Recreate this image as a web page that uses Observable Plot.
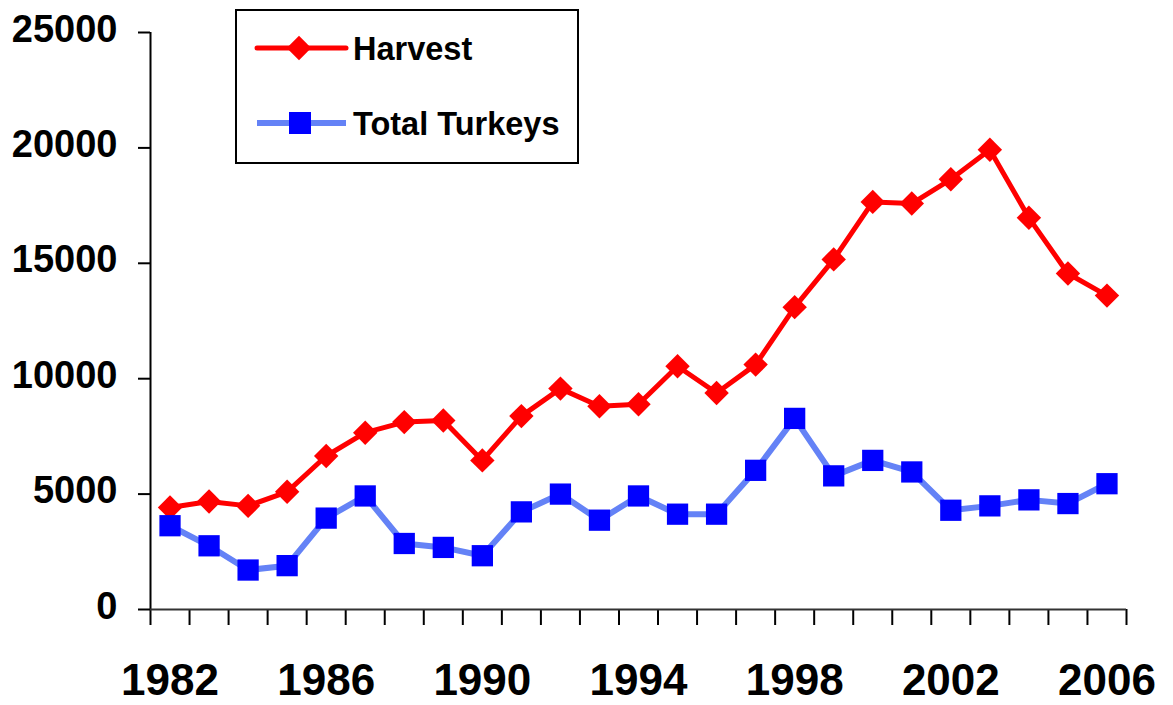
<!DOCTYPE html>
<html>
<head>
<meta charset="utf-8">
<script src="https://cdn.jsdelivr.net/npm/d3@7"></script>
<script src="https://cdn.jsdelivr.net/npm/@observablehq/plot@0.6"></script>
<style>
  html, body { margin: 0; padding: 0; background: #fff; }
  #wrap { position: relative; width: 1173px; height: 705px; font-family: "Liberation Sans", Arial, sans-serif; }
  #legend { position: absolute; left: 0; top: 0; pointer-events: none; }
</style>
</head>
<body>
<div id="wrap"></div>
<script>
const years = [1982,1983,1984,1985,1986,1987,1988,1989,1990,1991,1992,1993,1994,1995,1996,1997,1998,1999,2000,2001,2002,2003,2004,2005,2006];
const harvest = [4420,4680,4490,5100,6650,7660,8120,8190,6460,8380,9570,8810,8890,10540,9380,10610,13100,15170,17660,17590,18640,19920,16970,14560,13600];
const turkeys = [3630,2760,1710,1900,3960,4920,2860,2690,2330,4230,5000,3870,4920,4130,4130,6030,8280,5790,6460,5960,4300,4490,4750,4590,5450];
const yTicks = [0,5000,10000,15000,20000,25000];
const xLabels = [1982,1986,1990,1994,1998,2002,2006];
const seriesNames = ["Harvest", "Total Turkeys"];
const seriesColors = { line: ["#ff0000", "#6482f6"], marker: ["#ff0000", "#0000ff"] };

const data = years.map((y, i) => ({ year: y, harvest: harvest[i], turkeys: turkeys[i] }));
const boundaries = years.map(y => y - 0.5).concat([years[years.length - 1] + 0.5]);

const chart = Plot.plot({
  width: 1173,
  height: 705,
  marginLeft: 150,
  marginRight: 47,
  marginTop: 32,
  marginBottom: 96,
  style: { fontFamily: "'Liberation Sans', Arial, sans-serif", fontWeight: "bold", color: "#000", background: "#fff" },
  x: { domain: [boundaries[0], boundaries[boundaries.length - 1]], label: null },
  y: { domain: [0, 25000], label: null },
  marks: [
    Plot.axisY(yTicks, { tickSize: 12, strokeWidth: 2, tickFormat: () => "", label: null }),
    Plot.axisY(yTicks, { tickSize: 0, tickPadding: 33, fontSize: 38, fontWeight: "bold", dy: -3, tickFormat: d => String(d), label: null }),
    Plot.axisX(boundaries, { tickSize: 16, strokeWidth: 2, tickFormat: () => "", label: null }),
    Plot.axisX(xLabels, { tickSize: 0, tickPadding: 54, fontSize: 44, fontWeight: "bold", tickFormat: d => String(d), label: null }),
    Plot.ruleX([boundaries[0]], { y1: 0, y2: 25000, stroke: "#000", strokeWidth: 2 }),
    Plot.ruleY([0], { stroke: "#333", strokeWidth: 2 }),
    Plot.line(data, { x: "year", y: "harvest", stroke: seriesColors.line[0], strokeWidth: 5 }),
    Plot.dot(data, { x: "year", y: "harvest", symbol: "diamond2", r: 11, fill: seriesColors.marker[0], stroke: "none" }),
    Plot.line(data, { x: "year", y: "turkeys", stroke: seriesColors.line[1], strokeWidth: 6 }),
    Plot.dot(data, { x: "year", y: "turkeys", symbol: "square", r: 12, fill: seriesColors.marker[1], stroke: "none" })
  ]
});
document.getElementById("wrap").appendChild(chart);

// Legend overlay
const leg = d3.select("#wrap").append("svg")
  .attr("id", "legend").attr("width", 1173).attr("height", 705);
leg.append("rect").attr("x", 236).attr("y", 10).attr("width", 342).attr("height", 153)
  .attr("fill", "#fff").attr("stroke", "#000").attr("stroke-width", 2);
const rows = [48, 123];
seriesNames.forEach((name, i) => {
  const cy = rows[i];
  leg.append("line").attr("x1", 257).attr("x2", 346).attr("y1", cy).attr("y2", cy)
    .attr("stroke", seriesColors.line[i]).attr("stroke-width", i === 0 ? 5 : 6).attr("stroke-linecap", i === 0 ? "round" : "butt");
  if (i === 0) {
    leg.append("path").attr("d", d3.symbol(d3.symbolDiamond2, Math.PI * 121)())
      .attr("transform", `translate(299,${cy})`).attr("fill", seriesColors.marker[i]);
  } else {
    leg.append("rect").attr("x", 289).attr("y", cy - 11).attr("width", 22).attr("height", 22)
      .attr("fill", seriesColors.marker[i]);
  }
  leg.append("text").attr("x", 353).attr("y", cy + 12)
    .attr("font-family", "'Liberation Sans', Arial, sans-serif").attr("font-weight", "bold")
    .attr("font-size", 32.5).attr("fill", "#000").text(name);
});
</script>
</body>
</html>
